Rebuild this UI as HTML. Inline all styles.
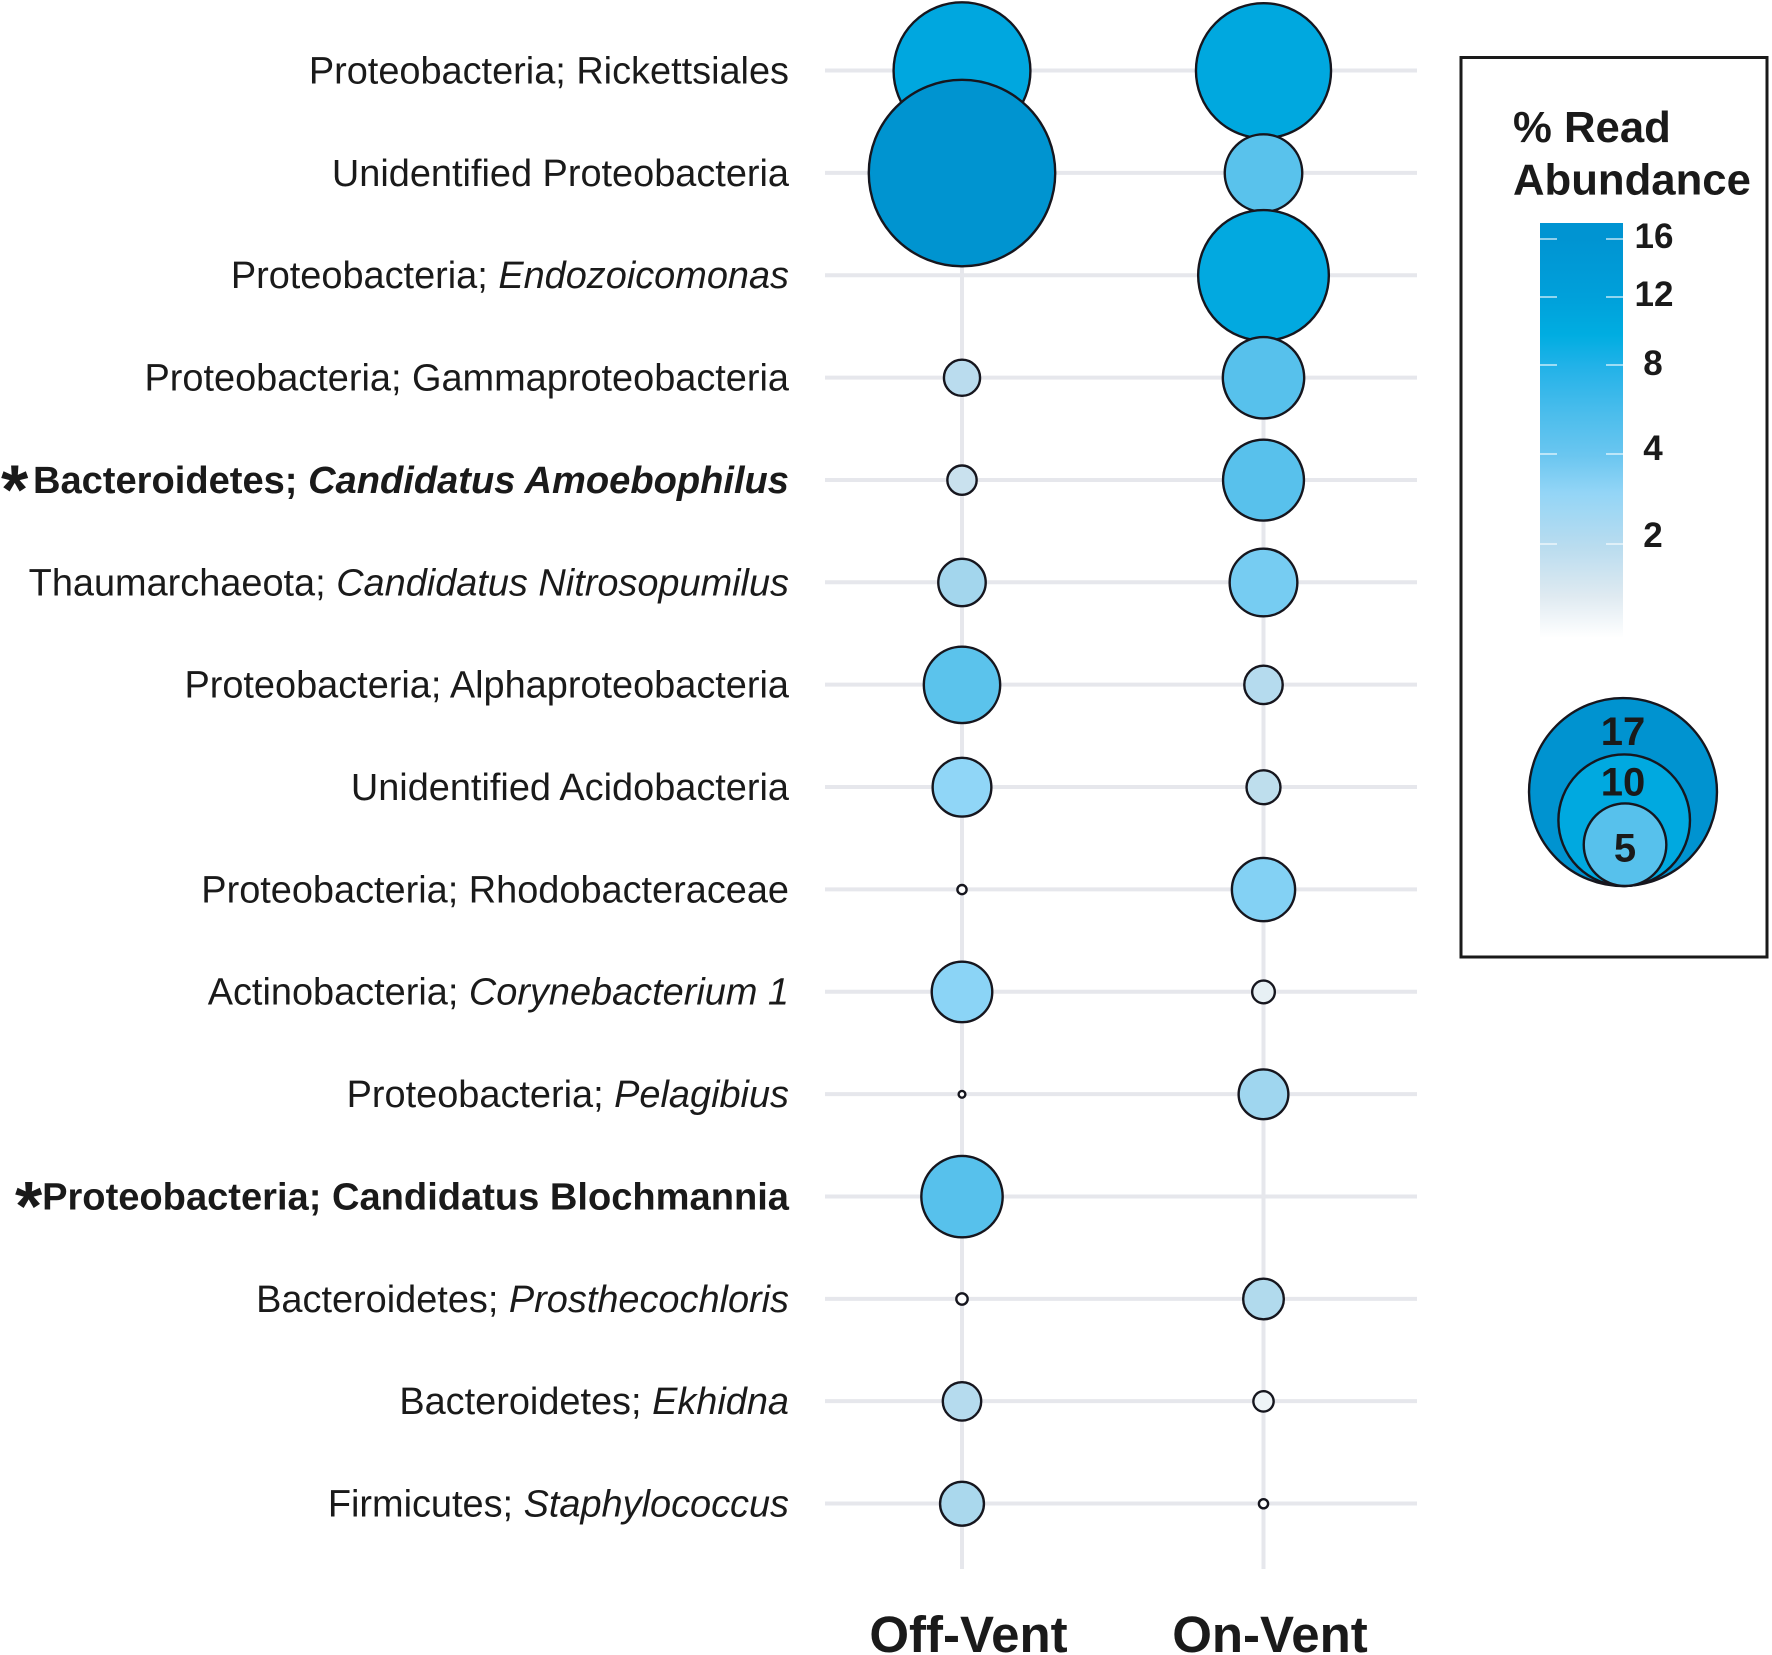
<!DOCTYPE html>
<html lang="en">
<head>
<meta charset="utf-8">
<title>Read abundance bubble chart</title>
<style>
html,body{margin:0;padding:0;background:#fff;}
svg{display:block;font-family:"Liberation Sans",Arial,sans-serif;}
</style>
</head>
<body>
<svg id="chart" xmlns="http://www.w3.org/2000/svg" width="1772" height="1655" viewBox="0 0 1772 1655">
  <defs>
    <linearGradient id="barGrad" x1="0" y1="0" x2="0" y2="1">
      <stop offset="0%" stop-color="#0094d2"/>
      <stop offset="3.6%" stop-color="#0094d2"/>
      <stop offset="17.7%" stop-color="#00a0da"/>
      <stop offset="27%" stop-color="#00ade1"/>
      <stop offset="34.6%" stop-color="#22b2e8"/>
      <stop offset="46%" stop-color="#4bbdec"/>
      <stop offset="56%" stop-color="#6ac6f0"/>
      <stop offset="65%" stop-color="#93d5f6"/>
      <stop offset="78%" stop-color="#b9dcef"/>
      <stop offset="90%" stop-color="#dfeaf1"/>
      <stop offset="100%" stop-color="#ffffff"/>
    </linearGradient>
  </defs>
  <rect x="0" y="0" width="1772" height="1655" fill="#fff"/>
  <g id="grid"></g>
  <g id="labels"></g>
  <g id="bubbles"></g>
  <g id="columns"></g>

  <g>
    <rect x="1461" y="57.5" width="306" height="899.5" fill="#fff" stroke="#1a1a1a" stroke-width="3"/>
    <text x="1513" y="142" font-size="43.7" font-weight="700" fill="#1a1a1a">% Read</text>
    <text x="1513" y="194.5" font-size="43.7" font-weight="700" fill="#1a1a1a">Abundance</text>
    <rect x="1540" y="223" width="83" height="415" fill="url(#barGrad)"/>
    <g stroke="#ffffff" stroke-opacity="0.75" stroke-width="1.5">
      <path d="M1540 239h17M1606 239h17M1540 297h17M1606 297h17M1540 365h17M1606 365h17M1540 454h17M1606 454h17M1540 544h17M1606 544h17" fill="none"/>
    </g>
    <g font-size="35" font-weight="700" fill="#1a1a1a" text-anchor="middle">
      <text x="1654" y="248">16</text>
      <text x="1654" y="306">12</text>
      <text x="1653" y="375">8</text>
      <text x="1653" y="460">4</text>
      <text x="1653" y="547">2</text>
    </g>
    <g id="sizeLegend"></g>
  </g>
</svg>
<script>
const taxonPlain = [
  "Proteobacteria; Rickettsiales",
  "Unidentified Proteobacteria",
  "Proteobacteria; ",
  "Proteobacteria; Gammaproteobacteria",
  "Bacteroidetes; ",
  "Thaumarchaeota; ",
  "Proteobacteria; Alphaproteobacteria",
  "Unidentified Acidobacteria",
  "Proteobacteria; Rhodobacteraceae",
  "Actinobacteria; ",
  "Proteobacteria; ",
  "Proteobacteria; Candidatus Blochmannia",
  "Bacteroidetes; ",
  "Bacteroidetes; ",
  "Firmicutes; "
];
const taxonItalic = ["", "", "Endozoicomonas", "", "Candidatus Amoebophilus", "Candidatus Nitrosopumilus", "", "", "", "Corynebacterium 1", "Pelagibius", "", "Prosthecochloris", "Ekhidna", "Staphylococcus"];
const taxonStarred = [false, false, false, false, true, false, false, false, false, false, false, true, false, false, false];
const columnNames = ["Off-Vent", "On-Vent"];
const offVent = [10.6, 16.8, null, 1.46, 1.07, 2.19, 4.45, 3.01, 0.19, 3.15, 0.12, 4.89, 0.26, 1.6, 1.95];
const onVent = [10.4, 4.55, 9.9, 4.89, 4.85, 3.72, 1.6, 1.33, 3.36, 0.73, 2.35, null, 1.74, 0.62, 0.19];
const sizeLegendValues = [17, 10, 5];
const colorValues = [0, 0.3, 0.7, 1.1, 1.6, 2.1, 3, 4.5, 5, 10, 17];
const colorHexes = ["#ffffff", "#ffffff", "#eaf1f5", "#c6e0ed", "#b5dbee", "#a5d6ec", "#90d6f7", "#59c2ec", "#57c1ec", "#00a9e0", "#0093d0"];

const NS = "http://www.w3.org/2000/svg";
const rowY = i => 70 + 102.36 * i;
const colX = j => 962 + 301.5 * j;
const radius = v => 14 * Math.pow(v, 0.672);
function hexRgb(h) {
  return [1, 3, 5].map(k => parseInt(h.slice(k, k + 2), 16));
}
function fillFor(v) {
  let k = 0;
  while (k < colorValues.length - 2 && v > colorValues[k + 1]) k++;
  const t = Math.max(0, Math.min(1, (v - colorValues[k]) / (colorValues[k + 1] - colorValues[k])));
  const a = hexRgb(colorHexes[k]);
  const b = hexRgb(colorHexes[k + 1]);
  return "rgb(" + a.map((c, n) => Math.round(c + (b[n] - c) * t)).join(",") + ")";
}
function make(tag, attrs, parent) {
  const el = document.createElementNS(NS, tag);
  for (const key in attrs) el.setAttribute(key, attrs[key]);
  parent.appendChild(el);
  return el;
}
const gridG = document.getElementById("grid");
const labelG = document.getElementById("labels");
const bubbleG = document.getElementById("bubbles");
const columnG = document.getElementById("columns");
const sizeG = document.getElementById("sizeLegend");

columnNames.forEach((name, j) => {
  const line = make("line", {x1: colX(j), x2: colX(j), y1: rowY(0), y2: 1569, stroke: "#e6e7ec", "stroke-width": 4}, gridG);
  
  
  const label = make("text", {x: colX(j) + 6.5, y: 1652, "font-size": 51, "font-weight": 700, "text-anchor": "middle", fill: "#1a1a1a"}, columnG);
  
  
  label.textContent = name;
});

taxonPlain.forEach((plain, i) => {
  const line = make("line", {x1: 825, x2: 1417, y1: rowY(i) + 0.5, y2: rowY(i) + 0.5, stroke: "#e6e7ec", "stroke-width": 4}, gridG);
  
  

  const starred = taxonStarred[i];
  const text = make("text", {x: 789, y: rowY(i) + 13.5, "font-size": starred ? 38.1 : 37.9, "text-anchor": "end", fill: "#1a1a1a"}, labelG);
  
  
  if (starred) text.setAttribute("font-weight", "700");
  const plainSpan = make("tspan", {}, text);
  plainSpan.textContent = plain;
  if (taxonItalic[i]) {
    const italicSpan = make("tspan", {"font-style": "italic"}, text);
    italicSpan.textContent = taxonItalic[i];
  }
  if (starred) {
    const star = make("text", {x: i === 4 ? 1 : 15, y: rowY(i) + 34, "font-size": 70, "font-weight": 700, fill: "#1a1a1a"}, labelG);
    
    
    star.textContent = "*";
  }
});

[offVent, onVent].forEach((series, j) => {
  series.forEach((v, i) => {
    if (v === null) return;
    const c = make("circle", {cx: colX(j), cy: rowY(i) + 0.7, r: radius(v), fill: fillFor(v), stroke: "#16161e", "stroke-width": 2.4}, bubbleG);
    
    
  });
});

sizeLegendValues.forEach(v => {
  const r = radius(v);
  const cx = 1623 + (17 - v) * 0.17;
  const c = make("circle", {cx: cx, cy: 886 - r, r: r, fill: fillFor(v), stroke: "#16161e", "stroke-width": 2.4}, sizeG);
  
  
});
sizeLegendValues.forEach((v, n) => {
  const r = radius(v);
  const offset = n === 2 ? r + 17 : (n === 1 ? 41 : 47);
  const t = make("text", {x: 1623 + (n === 2 ? 2 : 0), y: 886 - 2 * r + offset, "font-size": 40, "font-weight": 700, "text-anchor": "middle", fill: "#1a1a1a"}, sizeG);
  
  
  t.textContent = String(v);
});
</script>
</body>
</html>
